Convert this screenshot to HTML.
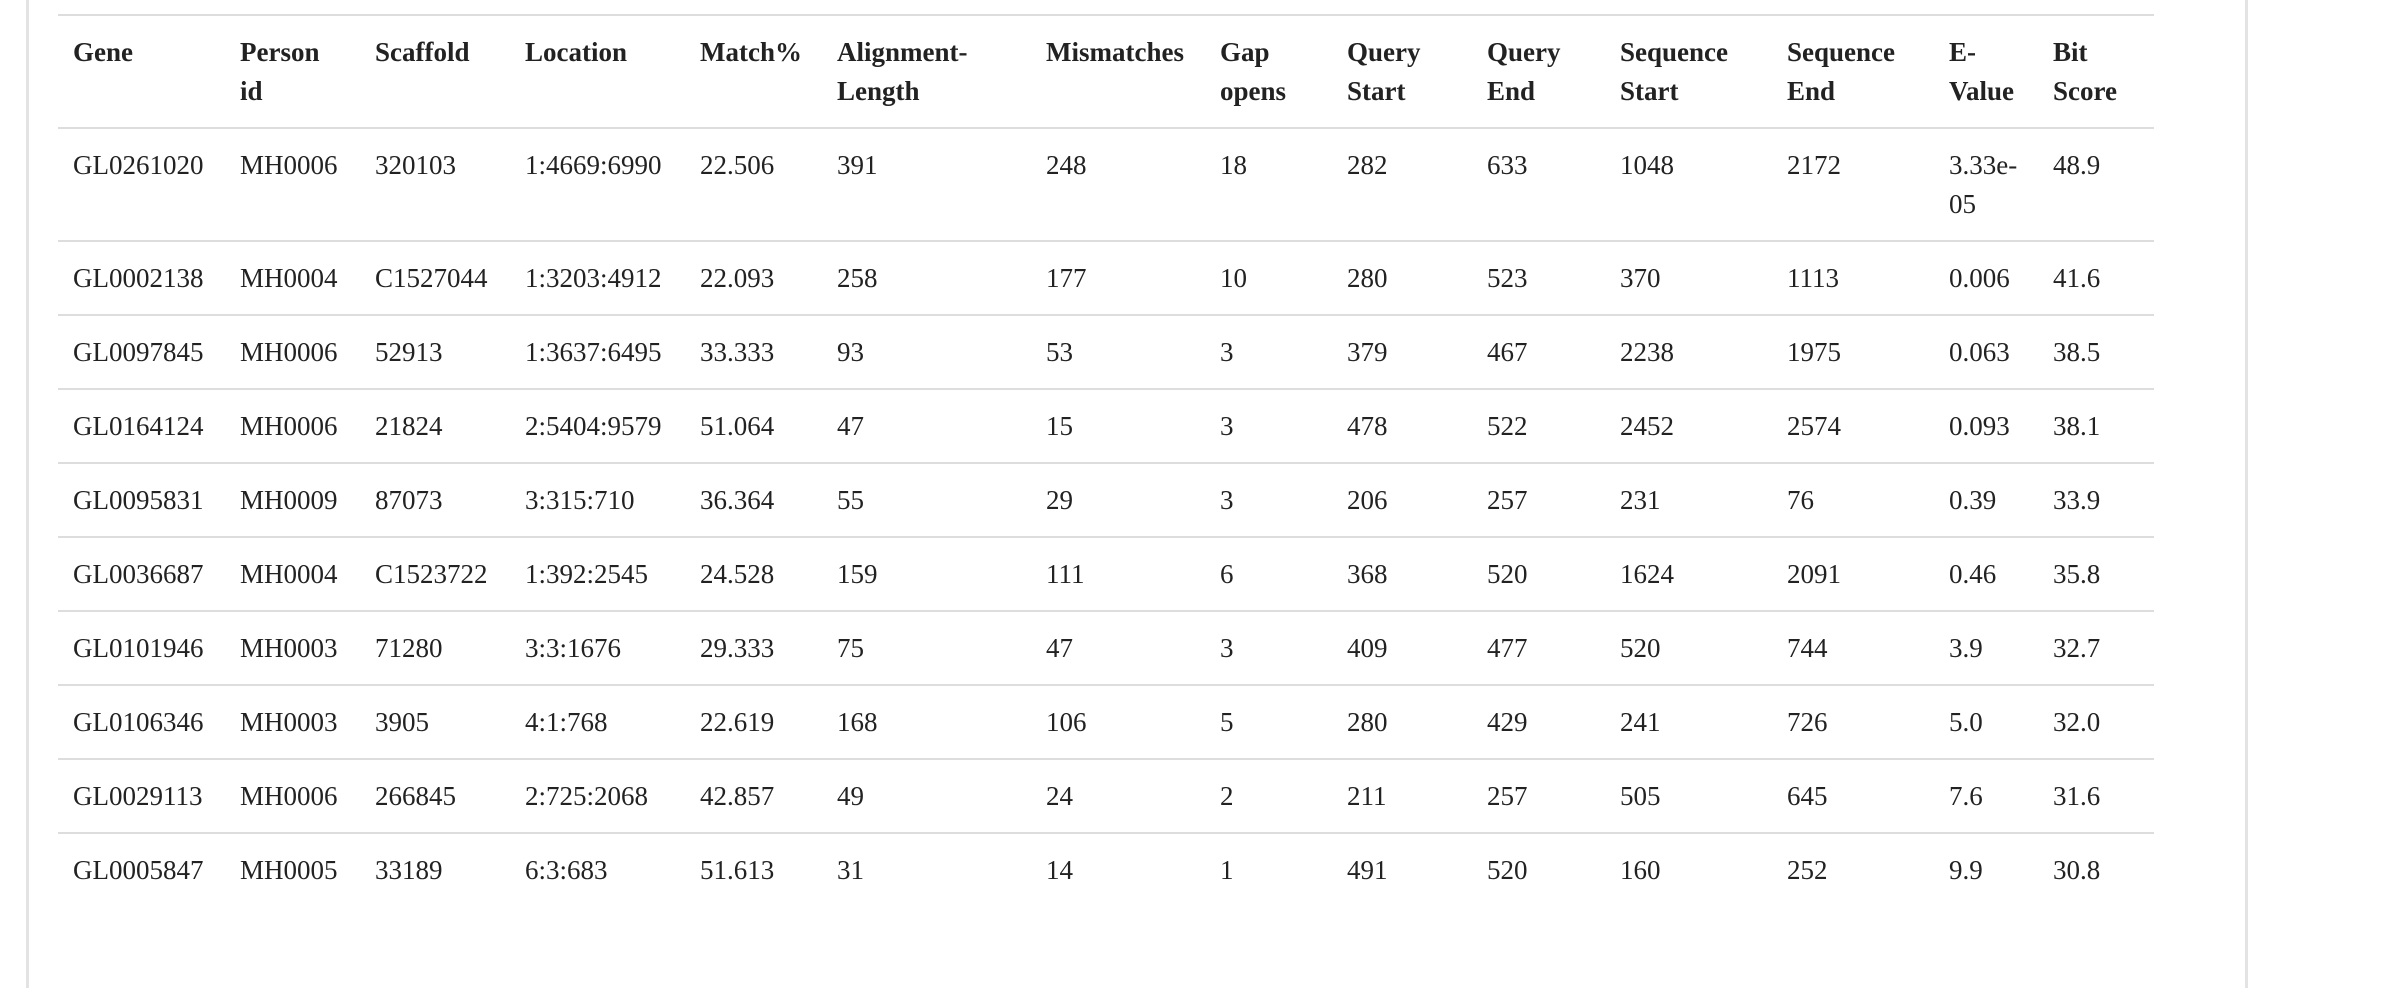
<!DOCTYPE html>
<html><head><meta charset="utf-8"><style>
html,body{margin:0;padding:0;background:#fff;width:2400px;height:980px;overflow:hidden}
.frame{position:absolute;left:26px;top:-2px;width:2216px;height:990px;border-left:3px solid #e3e3e3;border-right:3px solid #e3e3e3}
table{position:absolute;left:58px;top:14px;width:2096px;border-collapse:collapse;table-layout:fixed;font-family:"Liberation Serif",serif;font-size:27px;line-height:39px;color:#222}
th,td{text-align:left;vertical-align:top;padding:17px 12px 16px 15px;border-top:2px solid #ddd;word-wrap:break-word}
th{font-weight:bold;color:#222}
</style></head><body>
<div class="frame"></div>
<table>
<colgroup><col style="width:167px"><col style="width:135px"><col style="width:150px"><col style="width:175px"><col style="width:137px"><col style="width:209px"><col style="width:174px"><col style="width:127px"><col style="width:140px"><col style="width:133px"><col style="width:167px"><col style="width:162px"><col style="width:104px"><col style="width:116px"></colgroup>
<thead><tr>
<th>Gene</th>
<th>Person id</th>
<th>Scaffold</th>
<th>Location</th>
<th>Match%</th>
<th>Alignment-Length</th>
<th>Mismatches</th>
<th>Gap opens</th>
<th>Query Start</th>
<th>Query End</th>
<th>Sequence Start</th>
<th>Sequence End</th>
<th>E-Value</th>
<th>Bit Score</th>
</tr></thead>
<tbody>
<tr><td>GL0261020</td><td>MH0006</td><td>320103</td><td>1:4669:6990</td><td>22.506</td><td>391</td><td>248</td><td>18</td><td>282</td><td>633</td><td>1048</td><td>2172</td><td>3.33e-05</td><td>48.9</td></tr>
<tr><td>GL0002138</td><td>MH0004</td><td>C1527044</td><td>1:3203:4912</td><td>22.093</td><td>258</td><td>177</td><td>10</td><td>280</td><td>523</td><td>370</td><td>1113</td><td>0.006</td><td>41.6</td></tr>
<tr><td>GL0097845</td><td>MH0006</td><td>52913</td><td>1:3637:6495</td><td>33.333</td><td>93</td><td>53</td><td>3</td><td>379</td><td>467</td><td>2238</td><td>1975</td><td>0.063</td><td>38.5</td></tr>
<tr><td>GL0164124</td><td>MH0006</td><td>21824</td><td>2:5404:9579</td><td>51.064</td><td>47</td><td>15</td><td>3</td><td>478</td><td>522</td><td>2452</td><td>2574</td><td>0.093</td><td>38.1</td></tr>
<tr><td>GL0095831</td><td>MH0009</td><td>87073</td><td>3:315:710</td><td>36.364</td><td>55</td><td>29</td><td>3</td><td>206</td><td>257</td><td>231</td><td>76</td><td>0.39</td><td>33.9</td></tr>
<tr><td>GL0036687</td><td>MH0004</td><td>C1523722</td><td>1:392:2545</td><td>24.528</td><td>159</td><td>111</td><td>6</td><td>368</td><td>520</td><td>1624</td><td>2091</td><td>0.46</td><td>35.8</td></tr>
<tr><td>GL0101946</td><td>MH0003</td><td>71280</td><td>3:3:1676</td><td>29.333</td><td>75</td><td>47</td><td>3</td><td>409</td><td>477</td><td>520</td><td>744</td><td>3.9</td><td>32.7</td></tr>
<tr><td>GL0106346</td><td>MH0003</td><td>3905</td><td>4:1:768</td><td>22.619</td><td>168</td><td>106</td><td>5</td><td>280</td><td>429</td><td>241</td><td>726</td><td>5.0</td><td>32.0</td></tr>
<tr><td>GL0029113</td><td>MH0006</td><td>266845</td><td>2:725:2068</td><td>42.857</td><td>49</td><td>24</td><td>2</td><td>211</td><td>257</td><td>505</td><td>645</td><td>7.6</td><td>31.6</td></tr>
<tr><td>GL0005847</td><td>MH0005</td><td>33189</td><td>6:3:683</td><td>51.613</td><td>31</td><td>14</td><td>1</td><td>491</td><td>520</td><td>160</td><td>252</td><td>9.9</td><td>30.8</td></tr>
</tbody></table>
</body></html>
